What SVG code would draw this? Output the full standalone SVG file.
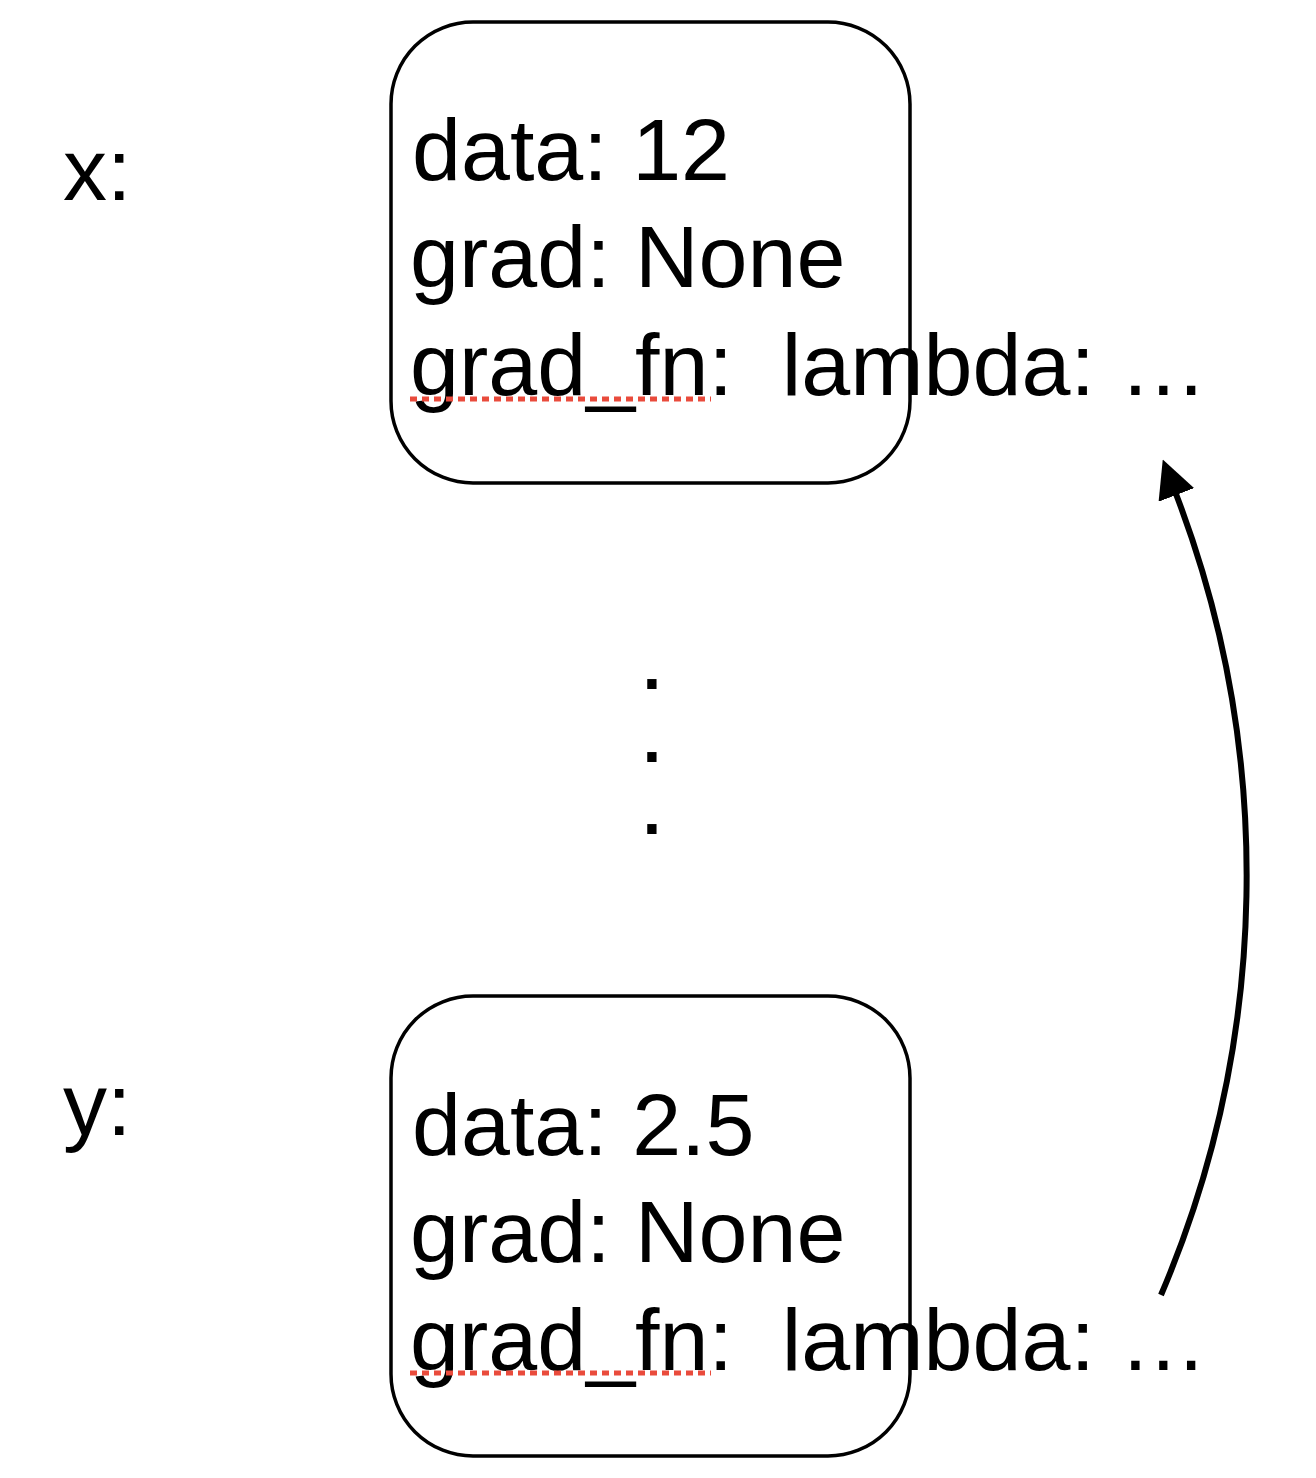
<svg xmlns="http://www.w3.org/2000/svg" width="1316" height="1478" viewBox="0 0 1316 1478">
<defs>
<style>
.t{font-family:"Liberation Sans",Arial,Helvetica,sans-serif;font-size:88px;fill:#000}
.dot{font-family:"Liberation Sans",Arial,Helvetica,sans-serif;font-size:66px;font-weight:bold;fill:#000}
.box{fill:none;stroke:#000;stroke-width:3.5}
.sq{fill:none;stroke:#e94b3c;stroke-width:5;stroke-dasharray:7 5}
.con{fill:none;stroke:#000;stroke-width:6}
</style>
<marker id="ah" markerUnits="userSpaceOnUse" markerWidth="38" markerHeight="38" viewBox="0 0 38 38" refX="1" refY="19" orient="auto">
<path d="M0,0 L38,19 L0,38 z" fill="#000"/>
</marker>
</defs>
<rect width="1316" height="1478" fill="#fff"/>
<g id="label-x"><text class="t" x="63" y="200">x:</text></g>
<g id="label-y"><text class="t" x="63" y="1135">y:</text></g>
<g id="node-x">
<rect class="box" x="391" y="22" width="519" height="461" rx="82" ry="82"/>
<text class="t" x="412" y="180">data: 12</text>
<text class="t" x="410" y="287">grad: None</text>
<text class="t" x="410" y="395" xml:space="preserve">grad_fn:  lambda: …</text>
<line class="sq" x1="410" y1="399" x2="711" y2="399"/>
</g>
<g id="ellipsis">
<text class="dot" x="652" y="689" text-anchor="middle">.</text>
<text class="dot" x="652" y="762" text-anchor="middle">.</text>
<text class="dot" x="652" y="834" text-anchor="middle">.</text>
</g>
<g id="node-y">
<rect class="box" x="391" y="996" width="519" height="460" rx="82" ry="82"/>
<text class="t" x="412" y="1155">data: 2.5</text>
<text class="t" x="410" y="1262">grad: None</text>
<text class="t" x="410" y="1370" xml:space="preserve">grad_fn:  lambda: …</text>
<line class="sq" x1="410" y1="1373" x2="711" y2="1373"/>
</g>
<g id="connectors">
<path class="con" d="M1161,1295 A1068,1068 0 0 0 1176,494" marker-end="url(#ah)"/>
</g>
</svg>
